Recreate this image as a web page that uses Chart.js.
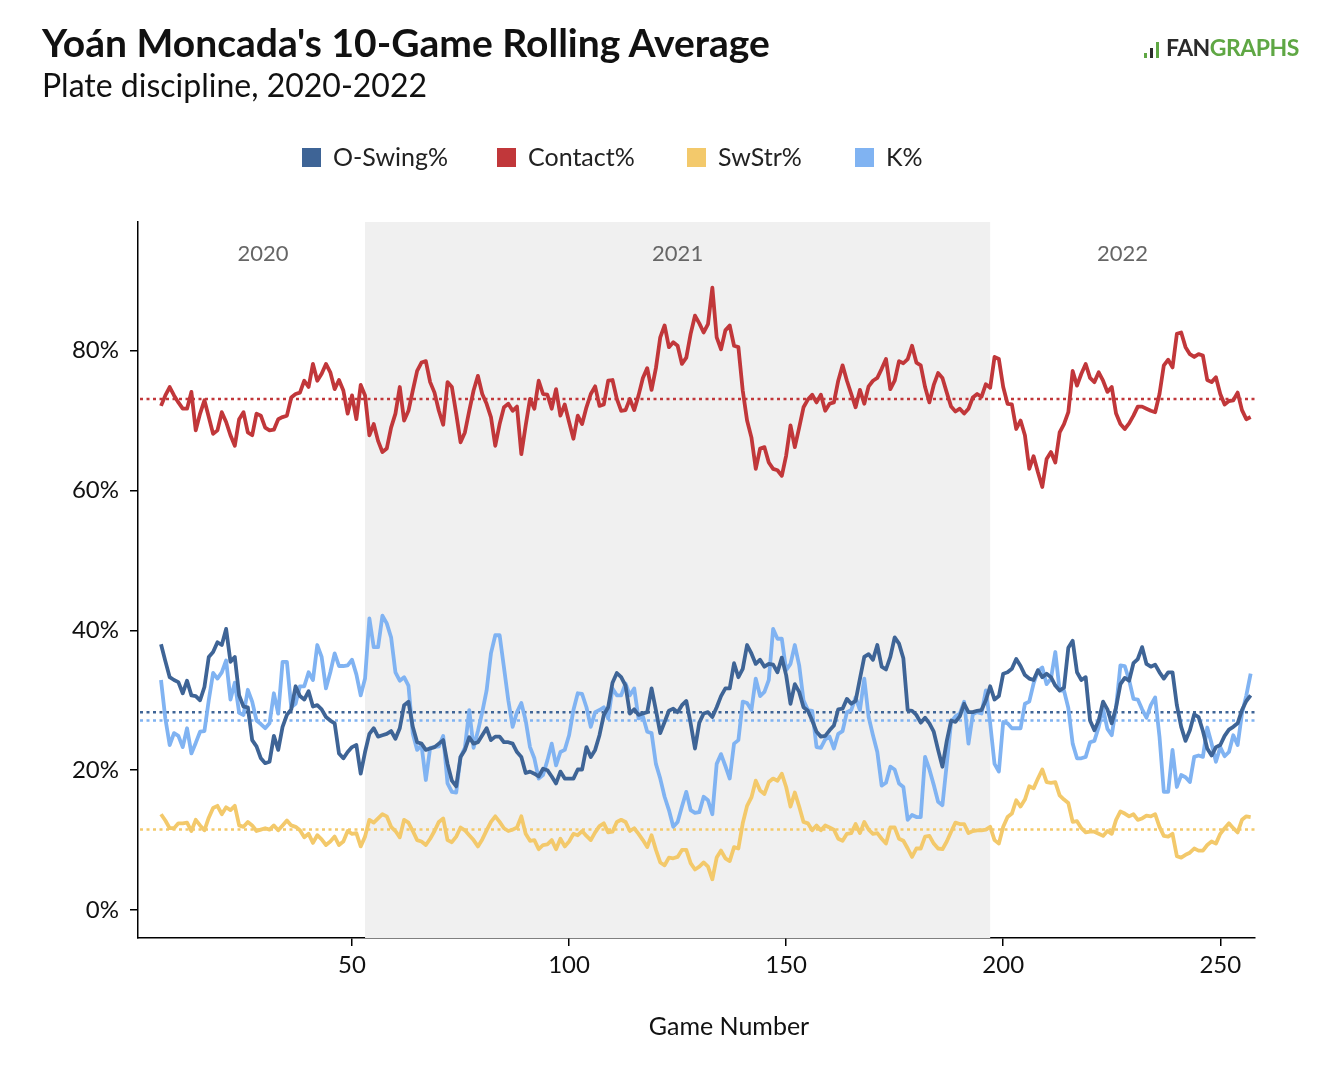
<!DOCTYPE html>
<html>
<head>
<meta charset="utf-8">
<title>Yoán Moncada's 10-Game Rolling Average</title>
<script src="https://cdn.jsdelivr.net/npm/chart.js@4.4.1/dist/chart.umd.min.js"></script>
<style>
    body { margin: 0; background: #fff; font-family: Lato, "Noto Sans", sans-serif; color: #111; }
    #wrap { position: relative; width: 1330px; height: 1068px; overflow: hidden; }
    #chart { position: absolute; left: 0; top: 0; }
    .title { position: absolute; left: 42px; top: 19px; font-size: 39px; line-height: 1.2; font-weight: 700; white-space: nowrap; }
    .subtitle { position: absolute; left: 42px; top: 66px; font-size: 32px; line-height: 1.2; white-space: nowrap; }
    .logo { position: absolute; left: 1142px; top: 34px; font-size: 23px; line-height: 1.2; font-weight: 700; letter-spacing: -0.5px; white-space: nowrap; }
    .logo .fan { color: #2b2b2b; }
    .logo .graphs { color: #5fa744; }
    .logo .bars { display: inline-block; width: 24px; height: 20px; position: relative; vertical-align: -2px; }
    .logo .bars i { position: absolute; bottom: 0; width: 3px; background: #5fa744; }
    .legend-item { position: absolute; top: 141px; font-size: 25px; line-height: 1.2; white-space: nowrap; color: #222; }
    .legend-box { position: absolute; top: 148px; width: 19px; height: 19px; }
    .x-title { position: absolute; top: 1010px; left: 579px; width: 300px; text-align: center; font-size: 25px; line-height: 1.2; }
</style>
</head>
<body>
<div id="wrap">
    <canvas id="chart" width="1330" height="1068"></canvas>
    <div class="title">Yoán Moncada's 10-Game Rolling Average</div>
    <div class="subtitle">Plate discipline, 2020-2022</div>
    <div class="logo"><span class="bars"><i style="left:2px;height:5px"></i><i style="left:8px;height:10px;background:#2b2b2b"></i><i style="left:14px;height:16px"></i></span><span class="fan">FAN</span><span class="graphs">GRAPHS</span></div>
    <div id="legend"></div>
    <div class="x-title">Game Number</div>
</div>
<script>
// Rolling averages, one value per game starting at game 6
const firstGame = 6;

const seriesNames = ['O-Swing%', 'Contact%', 'SwStr%', 'K%'];
const seriesColors = ['#3e6496', '#c1373a', '#f3c96b', '#80b3f2'];

// dotted reference lines (average of each stat)
const seriesAverages = [28.3, 73.1, 11.5, 27.1];

const oSwingPct = [
    38.0, 35.6, 33.3, 32.9, 32.6, 31.0, 32.8, 30.7, 30.6, 30.0,
    31.9, 36.2, 36.9, 38.3, 37.9, 40.2, 35.5, 36.2, 30.7, 29.1,
    29.0, 24.3, 23.4, 21.7, 21.0, 21.2, 24.9, 22.9, 26.2, 27.9,
    28.7, 32.0, 30.6, 30.1, 31.3, 29.1, 29.3, 28.7, 27.6, 27.1,
    26.7, 22.4, 21.7, 22.6, 23.3, 23.6, 19.5, 22.6, 25.2, 26.0,
    24.8, 25.0, 25.2, 25.6, 24.5, 26.0, 29.3, 29.8, 26.2, 24.0,
    23.8, 22.9, 23.1, 23.3, 23.8, 24.3, 20.9, 18.5, 17.7, 21.9,
    22.9, 24.7, 23.8, 24.0, 25.0, 26.0, 24.3, 24.8, 24.8, 24.0,
    24.0, 23.8, 22.6, 21.9, 19.6, 19.8, 19.5, 19.1, 20.2, 20.0,
    19.1, 18.1, 19.8, 18.8, 18.8, 18.8, 20.1, 20.1, 23.3, 21.9,
    22.9, 25.0, 27.9, 29.0, 32.5, 33.9, 33.3, 32.1, 28.1, 28.7,
    27.9, 28.1, 28.3, 31.7, 28.6, 25.3, 26.9, 28.5, 28.8, 28.3,
    29.3, 29.9, 26.7, 23.1, 26.8, 28.1, 28.3, 27.6, 29.0, 30.6,
    31.7, 31.7, 35.3, 33.3, 34.5, 37.9, 36.7, 35.2, 35.8, 34.8,
    35.2, 35.1, 34.0, 36.1, 33.6, 29.5, 32.3, 31.2, 29.0, 28.5,
    27.1, 25.5, 24.8, 24.9, 25.7, 26.4, 28.7, 28.8, 30.2, 29.5,
    29.9, 33.1, 36.2, 36.6, 35.8, 37.9, 34.8, 34.4, 36.2, 39.0,
    38.1, 36.0, 28.6, 28.5, 27.9, 26.8, 27.5, 26.7, 25.5, 22.9,
    20.5, 24.2, 27.1, 26.9, 27.7, 29.5, 28.3, 28.3, 28.5, 28.6,
    30.0, 32.0, 30.1, 30.6, 33.8, 34.0, 34.5, 35.9, 34.9, 33.6,
    33.1, 32.9, 34.3, 33.3, 33.8, 33.3, 32.1, 31.4, 31.8, 37.5,
    38.5, 34.0, 32.9, 33.3, 27.1, 25.7, 27.1, 29.8, 28.7, 26.7,
    29.0, 32.3, 33.2, 32.8, 35.3, 35.9, 37.6, 35.2, 34.8, 35.1,
    34.0, 33.1, 34.0, 34.0, 29.3, 26.2, 24.2, 25.7, 28.0, 27.6,
    25.6, 23.1, 22.1, 23.3, 23.6, 24.9, 25.8, 26.2, 26.7, 28.6,
    29.9, 30.7
];

const contactPct = [
    72.1, 73.6, 74.8, 73.6, 72.6, 71.7, 71.7, 74.1, 68.6, 71.0,
    72.9, 70.5, 68.1, 68.6, 71.2, 69.8, 67.9, 66.4, 70.2, 71.2,
    68.3, 67.9, 71.0, 70.7, 69.0, 68.6, 68.7, 70.2, 70.5, 70.7,
    73.3, 73.8, 74.0, 75.7, 74.8, 78.1, 75.7, 76.7, 78.1, 76.9,
    74.5, 75.8, 74.3, 71.0, 73.6, 70.2, 75.1, 73.6, 67.9, 69.5,
    67.1, 65.5, 66.0, 69.0, 71.0, 74.8, 70.0, 71.4, 74.3, 77.1,
    78.3, 78.5, 75.5, 74.0, 71.4, 69.4, 75.5, 74.8, 71.0, 66.9,
    68.3, 71.4, 74.3, 76.4, 73.8, 72.4, 70.5, 66.4, 69.5, 71.9,
    72.4, 71.4, 72.0, 65.2, 69.3, 73.1, 71.7, 75.7, 73.8, 73.7,
    71.7, 74.5, 70.7, 72.3, 69.8, 67.4, 70.7, 69.5, 71.9, 73.8,
    74.9, 72.1, 72.3, 75.7, 75.8, 73.1, 71.4, 71.5, 73.1, 71.5,
    73.6, 76.1, 77.5, 74.4, 77.5, 81.9, 83.6, 80.5, 81.2, 80.7,
    78.1, 79.0, 82.4, 85.0, 83.9, 82.6, 83.8, 89.0, 81.9, 80.2,
    82.9, 83.6, 80.7, 80.5, 74.3, 70.0, 67.6, 63.1, 66.0, 66.2,
    64.0, 63.1, 62.9, 62.1, 65.0, 69.3, 66.2, 69.0, 71.9, 73.0,
    73.7, 72.6, 73.7, 71.4, 72.4, 72.6, 75.7, 77.9, 75.7, 73.8,
    71.9, 74.4, 72.4, 74.9, 75.7, 76.1, 77.4, 78.8, 74.5, 75.7,
    78.5, 78.2, 78.8, 80.7, 78.3, 77.9, 74.8, 72.6, 75.1, 76.8,
    76.1, 74.0, 72.0, 71.3, 71.7, 71.0, 71.7, 73.3, 73.8, 73.4,
    75.2, 74.7, 79.1, 78.8, 74.8, 72.4, 72.3, 68.8, 70.0, 67.9,
    63.1, 64.9, 62.6, 60.5, 64.5, 65.5, 64.0, 68.3, 69.5, 71.2,
    77.1, 75.0, 76.7, 78.1, 76.1, 75.5, 76.9, 75.7, 74.1, 74.8,
    71.0, 69.5, 68.8, 69.6, 70.7, 72.0, 72.0, 71.7, 71.4, 71.2,
    73.8, 77.9, 78.7, 77.6, 82.4, 82.6, 80.5, 79.5, 79.1, 79.5,
    79.3, 75.8, 75.5, 76.2, 73.8, 72.3, 72.8, 72.9, 74.0, 71.5,
    70.2, 70.5
];

const swStrPct = [
    13.7, 12.8, 11.7, 11.7, 12.4, 12.4, 12.5, 11.3, 12.9, 12.1,
    11.4, 13.2, 14.6, 14.9, 13.7, 14.7, 14.3, 14.9, 12.1, 11.9,
    12.6, 12.1, 11.3, 11.5, 11.7, 11.5, 12.1, 11.4, 12.1, 12.8,
    12.1, 11.9, 11.4, 10.4, 10.9, 9.6, 10.7, 10.1, 9.3, 9.8,
    10.5, 9.3, 9.8, 11.3, 10.9, 11.0, 9.1, 10.5, 12.9, 12.5,
    13.1, 13.7, 13.4, 11.9, 11.3, 10.4, 12.9, 12.5, 11.3, 10.0,
    9.8, 9.3, 10.2, 11.3, 12.6, 13.1, 10.0, 9.7, 10.5, 11.8,
    11.4, 10.7, 10.0, 9.1, 10.1, 11.4, 12.6, 13.4, 12.6, 11.7,
    11.3, 11.5, 11.8, 13.4, 10.9, 9.9, 10.0, 8.7, 9.3, 9.4,
    10.0, 8.7, 10.2, 9.1, 9.8, 10.9, 10.7, 11.3, 10.6, 10.0,
    11.1, 12.0, 12.4, 11.1, 11.2, 12.6, 12.9, 12.6, 11.3, 11.7,
    10.9, 10.0, 9.0, 10.7, 8.6, 6.8, 6.4, 7.5, 7.4, 7.6,
    8.6, 8.6, 6.7, 5.8, 6.2, 6.8, 6.2, 4.4, 7.5, 8.5,
    7.4, 7.0, 9.0, 8.8, 12.4, 14.9, 16.1, 18.5, 17.1, 16.6,
    18.3, 18.8, 18.5, 19.5, 17.6, 14.8, 16.8, 14.8, 12.6, 12.4,
    11.4, 12.1, 11.4, 12.1, 11.8, 11.5, 10.2, 9.9, 10.9, 11.0,
    12.3, 11.0, 12.6, 11.5, 10.9, 11.0, 10.2, 9.5, 11.8, 11.8,
    10.2, 9.9, 8.8, 7.6, 8.8, 8.8, 10.5, 10.6, 9.5, 8.8,
    8.7, 9.8, 11.2, 12.5, 12.3, 12.3, 11.0, 11.3, 11.4, 11.4,
    11.5, 11.9, 10.0, 9.5, 11.9, 13.3, 13.8, 15.7, 14.8, 15.8,
    17.7, 17.4, 18.8, 20.1, 18.3, 18.2, 18.3, 16.4, 15.8, 15.3,
    12.6, 12.7, 11.7, 11.1, 11.2, 11.2, 10.9, 10.6, 11.3, 10.9,
    12.9, 14.1, 13.8, 13.4, 13.7, 12.9, 13.1, 13.5, 13.4, 13.7,
    11.9, 10.6, 10.5, 10.9, 7.7, 7.5, 7.9, 8.2, 8.8, 8.5,
    8.5, 9.3, 9.8, 9.5, 10.9, 11.7, 12.4, 11.7, 11.1, 12.9,
    13.4, 13.3
];

const kPct = [
    32.9, 27.4, 23.6, 25.3, 24.9, 23.3, 26.0, 22.4, 23.9, 25.5,
    25.6, 30.0, 33.9, 33.1, 34.0, 35.7, 30.1, 32.5, 28.2, 27.9,
    31.5, 29.8, 27.1, 26.6, 26.0, 26.7, 31.0, 28.1, 35.5, 35.5,
    29.0, 29.5, 32.0, 32.0, 34.0, 32.9, 37.9, 36.2, 31.7, 34.0,
    36.7, 34.9, 34.9, 35.0, 35.8, 33.7, 30.7, 33.1, 41.7, 37.6,
    37.6, 42.1, 41.0, 39.0, 34.0, 32.8, 33.3, 32.1, 25.2, 22.9,
    23.6, 18.6, 23.2, 23.3, 23.4, 24.9, 18.1, 16.9, 16.8, 21.9,
    23.2, 28.6, 23.2, 25.6, 28.3, 31.4, 36.7, 39.3, 39.3, 34.7,
    30.0, 26.2, 28.3, 29.6, 27.1, 23.3, 21.7, 18.8, 19.3, 21.4,
    23.8, 20.7, 22.6, 22.9, 25.0, 28.6, 31.0, 30.9, 29.0, 26.2,
    28.3, 28.6, 29.0, 27.4, 31.7, 30.7, 30.7, 32.4, 30.7, 31.7,
    27.4, 27.7, 25.5, 25.3, 20.9, 18.8, 16.2, 14.3, 11.9, 12.6,
    14.8, 16.9, 14.3, 13.9, 14.0, 16.2, 15.7, 13.7, 20.9, 22.3,
    20.6, 18.8, 23.8, 24.3, 29.8, 29.6, 28.6, 33.1, 30.6, 31.2,
    32.9, 40.2, 38.8, 38.8, 34.3, 35.2, 37.9, 35.0, 30.0, 28.6,
    28.5, 23.3, 23.2, 24.4, 24.8, 23.1, 25.2, 25.6, 28.3, 28.6,
    30.4, 28.6, 33.1, 27.6, 25.0, 22.6, 17.8, 18.2, 20.5, 20.1,
    18.1, 17.6, 12.9, 13.6, 13.3, 13.3, 21.9, 20.1, 17.9, 15.5,
    15.0, 20.9, 26.9, 27.7, 28.1, 29.8, 23.8, 28.0, 28.3, 28.1,
    31.4, 26.7, 20.9, 19.8, 26.9, 26.7, 26.0, 26.0, 26.0, 29.5,
    29.8, 32.4, 34.2, 34.7, 32.3, 33.1, 36.9, 31.4, 31.4, 28.9,
    23.8, 21.7, 21.7, 21.9, 24.0, 24.2, 26.2, 28.8, 25.9, 25.0,
    29.0, 35.0, 34.9, 32.9, 30.2, 30.1, 28.7, 27.5, 29.3, 30.4,
    24.8, 16.9, 16.9, 22.9, 17.6, 19.3, 19.0, 18.3, 21.9, 22.1,
    21.9, 26.1, 23.8, 21.2, 23.3, 22.0, 22.6, 25.0, 23.6, 28.1,
    30.7, 33.8
];

const seriesValues = [oSwingPct, contactPct, swStrPct, kPct];

// axis ticks
const xTicks = [50, 100, 150, 200, 250];
const yTicks = [0, 20, 40, 60, 80];

// seasons: 2021 is shaded between these game numbers
const seasonBreaks = [53, 197];
const yearLabels = ['2020', '2021', '2022'];
const yearLabelGames = [29.5, 125, 227.5];

// Build legend
function buildLegend() {
    const legend = document.getElementById('legend');
    const boxLeft = [302, 497, 687, 855];
    seriesNames.forEach((name, i) => {
        const box = document.createElement('div');
        box.className = 'legend-box';
        box.style.left = boxLeft[i] + 'px';
        box.style.background = seriesColors[i];
        legend.appendChild(box);
        const label = document.createElement('div');
        label.className = 'legend-item';
        label.style.left = (boxLeft[i] + 31) + 'px';
        label.textContent = name;
        legend.appendChild(label);
    });
}

// Shaded 2021 band, dotted averages and year labels
const backdropPlugin = {
    id: 'backdrop',
    beforeDatasetsDraw(chart) {
        const { ctx, chartArea, scales } = chart;
        const x = scales.x, y = scales.y;
        ctx.save();
        ctx.fillStyle = '#f0f0f0';
        const x0 = x.getPixelForValue(seasonBreaks[0]);
        const x1 = x.getPixelForValue(seasonBreaks[1]);
        ctx.fillRect(x0, chartArea.top, x1 - x0, chartArea.bottom - chartArea.top);

        ctx.font = '22px Lato, "Noto Sans", sans-serif';
        ctx.fillStyle = '#666';
        ctx.textAlign = 'center';
        ctx.textBaseline = 'middle';
        yearLabels.forEach((label, i) => {
            ctx.fillText(label, x.getPixelForValue(yearLabelGames[i]), 254);
        });

        ctx.lineWidth = 2.5;
        ctx.setLineDash([3, 3.5]);
        seriesAverages.forEach((avg, i) => {
            const py = y.getPixelForValue(avg);
            ctx.strokeStyle = seriesColors[i];
            ctx.beginPath();
            ctx.moveTo(chartArea.left + 2, py);
            ctx.lineTo(chartArea.right, py);
            ctx.stroke();
        });
        ctx.restore();
    }
};

function createRollingChart() {
    const ctx = document.getElementById('chart');

    const datasets = seriesNames.map((name, i) => ({
        label: name,
        data: seriesValues[i].map((v, j) => ({ x: firstGame + j, y: v })),
        borderColor: seriesColors[i],
        borderWidth: 3.8,
        borderJoinStyle: 'round',
        pointRadius: 0,
        tension: 0,
        fill: false
    }));

    const tickFont = { family: 'Lato, "Noto Sans", sans-serif', size: 24 };

    new Chart(ctx, {
        type: 'line',
        data: { datasets: datasets },
        plugins: [backdropPlugin],
        options: {
            responsive: false,
            animation: false,
            layout: { padding: { left: 0, top: 222, right: 75, bottom: 0 } },
            plugins: {
                legend: { display: false },
                tooltip: { enabled: false }
            },
            scales: {
                x: {
                    type: 'linear',
                    min: 0.7,
                    max: 258,
                    afterBuildTicks: (scale) => { scale.ticks = xTicks.map(v => ({ value: v })); },
                    afterFit: (scale) => { scale.height = 130; },
                    grid: { drawOnChartArea: false, drawTicks: true, tickLength: 8, color: '#000', lineWidth: 1.5 },
                    border: { display: true, color: '#000', width: 1.5 },
                    ticks: { color: '#111', font: tickFont, padding: 5, maxRotation: 0 }
                },
                y: {
                    min: -4,
                    max: 98.4,
                    afterBuildTicks: (scale) => { scale.ticks = yTicks.map(v => ({ value: v })); },
                    afterFit: (scale) => { scale.width = 138; },
                    grid: { drawOnChartArea: false, drawTicks: true, tickLength: 8, color: '#000', lineWidth: 1.5 },
                    border: { display: true, color: '#000', width: 1.5 },
                    ticks: {
                        color: '#111',
                        font: tickFont,
                        padding: 11,
                        callback: (value) => value + '%'
                    }
                }
            }
        }
    });
}

document.addEventListener('DOMContentLoaded', () => {
    if (typeof Chart === 'undefined') {
        console.error('Chart.js not loaded');
        return;
    }
    buildLegend();
    createRollingChart();
});
</script>
</body>
</html>
